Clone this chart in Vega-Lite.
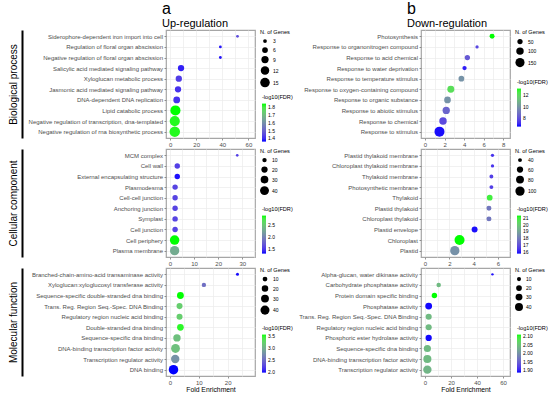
{
  "$schema": "https://vega.github.io/schema/vega-lite/v6.json",
  "padding": {"left": 7, "top": 0, "right": 5, "bottom": 3},
  "bounds": "flush",
  "columns": 2,
  "spacing": {"row": 11, "column": 166},
  "resolve": {"scale": {"color": "independent", "size": "independent", "x": "independent", "y": "independent"}, "legend": {"color": "independent", "size": "independent"}},
  "datasets": {
    "go": [
      {"panel": "up", "cat": "BP", "term": "Siderophore-dependent iron import into cell", "fe": 51.6, "genes": 2, "fdr": 1.46},
      {"panel": "up", "cat": "BP", "term": "Regulation of floral organ abscission", "fe": 38.5, "genes": 2, "fdr": 1.375},
      {"panel": "up", "cat": "BP", "term": "Negative regulation of floral organ abscission", "fe": 38.5, "genes": 2, "fdr": 1.375},
      {"panel": "up", "cat": "BP", "term": "Salicylic acid mediated signaling pathway", "fe": 8.4, "genes": 7, "fdr": 1.385},
      {"panel": "up", "cat": "BP", "term": "Xyloglucan metabolic process", "fe": 6.7, "genes": 7, "fdr": 1.43},
      {"panel": "up", "cat": "BP", "term": "Jasmonic acid mediated signaling pathway", "fe": 6.1, "genes": 7, "fdr": 1.41},
      {"panel": "up", "cat": "BP", "term": "DNA-dependent DNA replication", "fe": 5.1, "genes": 8, "fdr": 1.41},
      {"panel": "up", "cat": "BP", "term": "Lipid catabolic process", "fe": 4.1, "genes": 17, "fdr": 1.85},
      {"panel": "up", "cat": "BP", "term": "Negative regulation of transcription, dna-templated", "fe": 3.6, "genes": 17, "fdr": 1.84},
      {"panel": "up", "cat": "BP", "term": "Negative regulation of rna biosynthetic process", "fe": 3.6, "genes": 18, "fdr": 1.84},
      {"panel": "up", "cat": "CC", "term": "MCM complex", "fe": 27.9, "genes": 4, "fdr": 1.54},
      {"panel": "up", "cat": "CC", "term": "Cell wall", "fe": 3.0, "genes": 15, "fdr": 1.54},
      {"panel": "up", "cat": "CC", "term": "External encapsulating structure", "fe": 3.0, "genes": 15, "fdr": 1.33},
      {"panel": "up", "cat": "CC", "term": "Plasmodesma", "fe": 2.1, "genes": 15, "fdr": 1.57},
      {"panel": "up", "cat": "CC", "term": "Cell-cell junction", "fe": 2.1, "genes": 15, "fdr": 1.57},
      {"panel": "up", "cat": "CC", "term": "Anchoring junction", "fe": 2.1, "genes": 15, "fdr": 1.57},
      {"panel": "up", "cat": "CC", "term": "Symplast", "fe": 2.1, "genes": 15, "fdr": 1.57},
      {"panel": "up", "cat": "CC", "term": "Cell junction", "fe": 2.1, "genes": 15, "fdr": 1.57},
      {"panel": "up", "cat": "CC", "term": "Cell periphery", "fe": 1.9, "genes": 45, "fdr": 2.9},
      {"panel": "up", "cat": "CC", "term": "Plasma membrane", "fe": 1.9, "genes": 43, "fdr": 2.3},
      {"panel": "up", "cat": "MF", "term": "Branched-chain-amino-acid transaminase activity", "fe": 23.4, "genes": 3, "fdr": 2.0},
      {"panel": "up", "cat": "MF", "term": "Xyloglucan:xyloglucosyl transferase activity", "fe": 11.75, "genes": 8, "fdr": 2.53},
      {"panel": "up", "cat": "MF", "term": "Sequence-specific double-stranded dna binding", "fe": 3.6, "genes": 22, "fdr": 3.55},
      {"panel": "up", "cat": "MF", "term": "Trans. Reg. Region Seq.-Spec. DNA Binding", "fe": 3.3, "genes": 17, "fdr": 3.2},
      {"panel": "up", "cat": "MF", "term": "Regulatory region nucleic acid binding", "fe": 3.3, "genes": 17, "fdr": 3.2},
      {"panel": "up", "cat": "MF", "term": "Double-stranded dna binding", "fe": 3.6, "genes": 21, "fdr": 3.5},
      {"panel": "up", "cat": "MF", "term": "Sequence-specific dna binding", "fe": 2.4, "genes": 26, "fdr": 3.1},
      {"panel": "up", "cat": "MF", "term": "DNA-binding transcription factor activity", "fe": 1.9, "genes": 38, "fdr": 3.1},
      {"panel": "up", "cat": "MF", "term": "Transcription regulator activity", "fe": 1.8, "genes": 34, "fdr": 2.77},
      {"panel": "up", "cat": "MF", "term": "DNA binding", "fe": 1.2, "genes": 44, "fdr": 1.98},
      {"panel": "down", "cat": "BP", "term": "Photosynthesis", "fe": 6.86, "genes": 45, "fdr": 13.2},
      {"panel": "down", "cat": "BP", "term": "Response to organonitrogen compound", "fe": 5.32, "genes": 20, "fdr": 7.7},
      {"panel": "down", "cat": "BP", "term": "Response to acid chemical", "fe": 4.33, "genes": 51, "fdr": 8.2},
      {"panel": "down", "cat": "BP", "term": "Response to water deprivation", "fe": 4.04, "genes": 34, "fdr": 6.8},
      {"panel": "down", "cat": "BP", "term": "Response to temperature stimulus", "fe": 3.72, "genes": 59, "fdr": 9.9},
      {"panel": "down", "cat": "BP", "term": "Response to oxygen-containing compound", "fe": 2.64, "genes": 88, "fdr": 12.2},
      {"panel": "down", "cat": "BP", "term": "Response to organic substance", "fe": 2.3, "genes": 81, "fdr": 9.9},
      {"panel": "down", "cat": "BP", "term": "Response to abiotic stimulus", "fe": 2.17, "genes": 96, "fdr": 8.5},
      {"panel": "down", "cat": "BP", "term": "Response to chemical", "fe": 1.84, "genes": 100, "fdr": 7.8},
      {"panel": "down", "cat": "BP", "term": "Response to stimulus", "fe": 1.48, "genes": 180, "fdr": 6.6},
      {"panel": "down", "cat": "CC", "term": "Plastid thylakoid membrane", "fe": 5.55, "genes": 36, "fdr": 16.4},
      {"panel": "down", "cat": "CC", "term": "Chloroplast thylakoid membrane", "fe": 5.55, "genes": 36, "fdr": 16.4},
      {"panel": "down", "cat": "CC", "term": "Thylakoid membrane", "fe": 5.46, "genes": 40, "fdr": 16.6},
      {"panel": "down", "cat": "CC", "term": "Photosynthetic membrane", "fe": 5.46, "genes": 40, "fdr": 16.6},
      {"panel": "down", "cat": "CC", "term": "Thylakoid", "fe": 5.32, "genes": 55, "fdr": 20.9},
      {"panel": "down", "cat": "CC", "term": "Plastid thylakoid", "fe": 5.26, "genes": 48, "fdr": 17.9},
      {"panel": "down", "cat": "CC", "term": "Chloroplast thylakoid", "fe": 5.26, "genes": 48, "fdr": 17.9},
      {"panel": "down", "cat": "CC", "term": "Plastid envelope", "fe": 4.08, "genes": 57, "fdr": 15.9},
      {"panel": "down", "cat": "CC", "term": "Chloroplast", "fe": 2.84, "genes": 112, "fdr": 21.3},
      {"panel": "down", "cat": "CC", "term": "Plastid", "fe": 2.45, "genes": 100, "fdr": 18.55},
      {"panel": "down", "cat": "MF", "term": "Alpha-glucan, water dikinase activity", "fe": 51.8, "genes": 3, "fdr": 1.89},
      {"panel": "down", "cat": "MF", "term": "Carbohydrate phosphatase activity", "fe": 10.5, "genes": 12, "fdr": 2.04},
      {"panel": "down", "cat": "MF", "term": "Protein domain specific binding", "fe": 7.2, "genes": 18, "fdr": 2.11},
      {"panel": "down", "cat": "MF", "term": "Phosphatase activity", "fe": 2.8, "genes": 29, "fdr": 1.887},
      {"panel": "down", "cat": "MF", "term": "Trans. Reg. Region Seq.-Spec. DNA Binding", "fe": 2.8, "genes": 23, "fdr": 2.04},
      {"panel": "down", "cat": "MF", "term": "Regulatory region nucleic acid binding", "fe": 2.8, "genes": 23, "fdr": 2.04},
      {"panel": "down", "cat": "MF", "term": "Phosphoric ester hydrolase activity", "fe": 2.8, "genes": 24, "fdr": 1.887},
      {"panel": "down", "cat": "MF", "term": "Sequence-specific dna binding", "fe": 1.8, "genes": 32, "fdr": 2.04},
      {"panel": "down", "cat": "MF", "term": "DNA-binding transcription factor activity", "fe": 1.8, "genes": 41, "fdr": 2.04},
      {"panel": "down", "cat": "MF", "term": "Transcription regulator activity", "fe": 1.8, "genes": 44, "fdr": 2.035}
    ]
  },
  "concat": [
    {
      "width": 89, "height": 108,
      "data": {"name": "go"},
      "transform": [{"filter": "datum.panel == 'up' && datum.cat == 'BP'"}],
      "title": {"text": "a", "subtitle": "\u00a0\u00a0\u00a0\u00a0\u00a0\u00a0Up-regulation", "anchor": "start", "frame": "group", "dx": -4, "fontSize": 16, "fontWeight": "normal", "color": "black", "subtitleFontSize": 11, "subtitleColor": "black", "subtitlePadding": 1, "offset": 1},
      "layer": [
        {
          "mark": {"type": "circle", "opacity": 1, "color": "black"},
          "encoding": {
            "y": {"field": "term", "type": "nominal", "sort": null, "scale": {"padding": 0.6}, "axis": {"title": null}},
            "x": {"field": "fe", "type": "quantitative", "scale": {"domain": [-3.1, 65.0], "nice": false, "zero": false},
                  "axis": {"title": null, "values": [0, 10, 20, 30, 40, 50, 60], "labelExpr": "datum.value % 20 == 0 ? datum.label : ''", "tickOpacity": {"condition": {"test": "datum.value % 20 == 0", "value": 1}, "value": 0}}},
            "size": {"field": "genes", "type": "quantitative", "scale": {"domain": [2, 18], "range": [8, 110], "zero": false}, "legend": {"title": "N. of Genes", "values": [3, 6, 9, 12, 15]}},
            "color": {"field": "fdr", "type": "quantitative", "scale": {"domain": [1.36, 1.85], "range": ["#0000ff", "#00ff00"], "interpolate": "lab"}, "legend": {"title": "-log10(FDR)", "values": [1.4, 1.5, 1.6, 1.7, 1.8], "format": ".1f", "orient": "none", "legendX": 96, "legendY": 65}}
          }
        },
        {
          "mark": {"type": "circle", "opacity": 0},
          "encoding": {
            "y": {"field": "term", "type": "nominal", "sort": null, "scale": {"padding": 0.6},
                  "axis": {"orient": "left", "offset": 144, "labels": false, "ticks": false, "grid": false, "domain": true, "domainColor": "black", "domainWidth": 2, "title": "Biological process", "titleFontSize": 10, "titlePadding": 4}}
          }
        }
      ],
      "resolve": {"scale": {"y": "independent"}}
    },
    {
      "width": 89, "height": 108,
      "data": {"name": "go"},
      "transform": [{"filter": "datum.panel == 'down' && datum.cat == 'BP'"}],
      "title": {"text": "b", "subtitle": "\u00a0\u00a0\u00a0\u00a0\u00a0\u00a0Down-regulation", "anchor": "start", "frame": "group", "dx": -14, "fontSize": 16, "fontWeight": "normal", "color": "black", "subtitleFontSize": 11, "subtitleColor": "black", "subtitlePadding": 1, "offset": 1},
      "mark": {"type": "circle", "opacity": 1, "color": "black"},
      "encoding": {
        "y": {"field": "term", "type": "nominal", "sort": null, "scale": {"padding": 0.6}, "axis": {"title": null}},
        "x": {"field": "fe", "type": "quantitative", "scale": {"domain": [-0.41, 8.69], "nice": false, "zero": false},
              "axis": {"title": null, "values": [0, 1, 2, 3, 4, 5, 6, 7, 8], "labelExpr": "datum.value % 2 == 0 ? datum.label : ''", "tickOpacity": {"condition": {"test": "datum.value % 2 == 0", "value": 1}, "value": 0}}},
        "size": {"field": "genes", "type": "quantitative", "scale": {"domain": [15, 180], "range": [8, 100], "zero": false}, "legend": {"title": "N. of Genes", "values": [50, 100, 150]}},
        "color": {"field": "fdr", "type": "quantitative", "scale": {"domain": [6.5, 13.2], "range": ["#0000ff", "#00ff00"], "interpolate": "lab"}, "legend": {"title": "-log10(FDR)", "values": [8, 10, 12], "orient": "none", "legendX": 96, "legendY": 50}}
      }
    },
    {
      "width": 89, "height": 108,
      "data": {"name": "go"},
      "transform": [{"filter": "datum.panel == 'up' && datum.cat == 'CC'"}],
      "layer": [
        {
          "mark": {"type": "circle", "opacity": 1, "color": "black"},
          "encoding": {
            "y": {"field": "term", "type": "nominal", "sort": null, "scale": {"padding": 0.6}, "axis": {"title": null}},
            "x": {"field": "fe", "type": "quantitative", "scale": {"domain": [-1.68, 35.28], "nice": false, "zero": false},
                  "axis": {"title": null, "values": [0, 5, 10, 15, 20, 25, 30, 35], "labelExpr": "datum.value % 10 == 0 ? datum.label : ''", "tickOpacity": {"condition": {"test": "datum.value % 10 == 0", "value": 1}, "value": 0}}},
            "size": {"field": "genes", "type": "quantitative", "scale": {"domain": [4, 45], "range": [7, 90], "zero": false}, "legend": {"title": "N. of Genes", "values": [10, 20, 30, 40]}},
            "color": {"field": "fdr", "type": "quantitative", "scale": {"domain": [1.3, 2.9], "range": ["#0000ff", "#00ff00"], "interpolate": "lab"}, "legend": {"title": "-log10(FDR)", "values": [1.5, 2.0, 2.5], "format": ".1f", "orient": "none", "legendX": 96, "legendY": 58}}
          }
        },
        {
          "mark": {"type": "circle", "opacity": 0},
          "encoding": {
            "y": {"field": "term", "type": "nominal", "sort": null, "scale": {"padding": 0.6},
                  "axis": {"orient": "left", "offset": 144, "labels": false, "ticks": false, "grid": false, "domain": true, "domainColor": "black", "domainWidth": 2, "title": "Cellular component", "titleFontSize": 10, "titlePadding": 4}}
          }
        }
      ],
      "resolve": {"scale": {"y": "independent"}}
    },
    {
      "width": 89, "height": 108,
      "data": {"name": "go"},
      "transform": [{"filter": "datum.panel == 'down' && datum.cat == 'CC'"}],
      "mark": {"type": "circle", "opacity": 1, "color": "black"},
      "encoding": {
        "y": {"field": "term", "type": "nominal", "sort": null, "scale": {"padding": 0.6}, "axis": {"title": null}},
        "x": {"field": "fe", "type": "quantitative", "scale": {"domain": [-0.33, 6.99], "nice": false, "zero": false},
              "axis": {"title": null, "values": [0, 1, 2, 3, 4, 5, 6], "labelExpr": "datum.value % 2 == 0 ? datum.label : ''", "tickOpacity": {"condition": {"test": "datum.value % 2 == 0", "value": 1}, "value": 0}}},
        "size": {"field": "genes", "type": "quantitative", "scale": {"domain": [32, 112], "range": [6, 100], "zero": false}, "legend": {"title": "N. of Genes", "values": [40, 60, 80, 100]}},
        "color": {"field": "fdr", "type": "quantitative", "scale": {"domain": [15.8, 21.3], "range": ["#0000ff", "#00ff00"], "interpolate": "lab"}, "legend": {"title": "-log10(FDR)", "values": [16, 17, 18, 19, 20, 21], "orient": "none", "legendX": 96, "legendY": 58}}
      }
    },
    {
      "width": 89, "height": 108,
      "data": {"name": "go"},
      "transform": [{"filter": "datum.panel == 'up' && datum.cat == 'MF'"}],
      "layer": [
        {
          "mark": {"type": "circle", "opacity": 1, "color": "black"},
          "encoding": {
            "y": {"field": "term", "type": "nominal", "sort": null, "scale": {"padding": 0.6}, "axis": {"title": null}},
            "x": {"field": "fe", "type": "quantitative", "scale": {"domain": [-1.4, 29.48], "nice": false, "zero": false},
                  "axis": {"title": "Fold Enrichment", "values": [0, 5, 10, 15, 20, 25], "labelExpr": "datum.value % 10 == 0 ? datum.label : ''", "tickOpacity": {"condition": {"test": "datum.value % 10 == 0", "value": 1}, "value": 0}}},
            "size": {"field": "genes", "type": "quantitative", "scale": {"domain": [3, 44], "range": [9, 90], "zero": false}, "legend": {"title": "N. of Genes", "values": [10, 20, 30, 40]}},
            "color": {"field": "fdr", "type": "quantitative", "scale": {"domain": [1.98, 3.55], "range": ["#0000ff", "#00ff00"], "interpolate": "lab"}, "legend": {"title": "-log10(FDR)", "values": [2.0, 2.5, 3.0, 3.5], "format": ".1f", "orient": "none", "legendX": 96, "legendY": 58}}
          }
        },
        {
          "mark": {"type": "circle", "opacity": 0},
          "encoding": {
            "y": {"field": "term", "type": "nominal", "sort": null, "scale": {"padding": 0.6},
                  "axis": {"orient": "left", "offset": 144, "labels": false, "ticks": false, "grid": false, "domain": true, "domainColor": "black", "domainWidth": 2, "title": "Molecular function", "titleFontSize": 10, "titlePadding": 4}}
          }
        }
      ],
      "resolve": {"scale": {"y": "independent"}}
    },
    {
      "width": 89, "height": 108,
      "data": {"name": "go"},
      "transform": [{"filter": "datum.panel == 'down' && datum.cat == 'MF'"}],
      "mark": {"type": "circle", "opacity": 1, "color": "black"},
      "encoding": {
        "y": {"field": "term", "type": "nominal", "sort": null, "scale": {"padding": 0.6}, "axis": {"title": null}},
        "x": {"field": "fe", "type": "quantitative", "scale": {"domain": [-3.1, 65.3], "nice": false, "zero": false},
              "axis": {"title": "Fold Enrichment", "values": [0, 10, 20, 30, 40, 50, 60], "labelExpr": "datum.value % 20 == 0 ? datum.label : ''", "tickOpacity": {"condition": {"test": "datum.value % 20 == 0", "value": 1}, "value": 0}}},
        "size": {"field": "genes", "type": "quantitative", "scale": {"domain": [3, 44], "range": [6, 70], "zero": false}, "legend": {"title": "N. of Genes", "values": [10, 20, 30, 40]}},
        "color": {"field": "fdr", "type": "quantitative", "scale": {"domain": [1.885, 2.11], "range": ["#0000ff", "#00ff00"], "interpolate": "lab"}, "legend": {"title": "-log10(FDR)", "values": [1.9, 1.95, 2.0, 2.05, 2.1], "format": ".2f", "orient": "none", "legendX": 96, "legendY": 58}}
      }
    }
  ],
  "config": {
    "font": "Liberation Sans",
    "view": {"stroke": "#a6a6a6", "strokeWidth": 1.2},
    "axis": {"labelFontSize": 6, "labelColor": "#4d4d4d", "domain": false, "ticks": true, "tickColor": "#4d4d4d", "tickSize": 2, "tickWidth": 0.6, "grid": true, "gridColor": "#ebebeb", "gridWidth": 0.7, "labelPadding": 1.5, "titleFontWeight": "normal", "titleColor": "black", "titleFontSize": 6.8, "titlePadding": 1},
    "legend": {"titleFontSize": 5.6, "titleFontWeight": "normal", "titleColor": "black", "labelFontSize": 5, "labelColor": "black", "offset": 5, "gradientLength": 38, "gradientThickness": 4, "rowPadding": 2.5, "symbolFillColor": "black", "symbolStrokeWidth": 0, "titlePadding": 3, "labelOffset": 3, "padding": 0}
  }
}
